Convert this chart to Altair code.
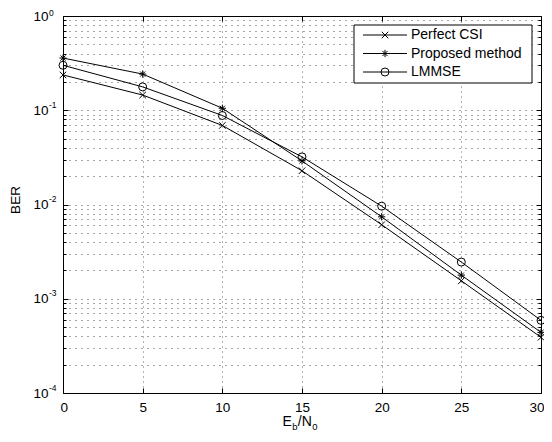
import altair as alt
import pandas as pd

# ---- data ----
snr_db = [0, 5, 10, 15, 20, 25, 30]
ber_perfect = [0.237, 0.145, 0.069, 0.0228, 0.0061, 0.00155, 0.00039]
ber_proposed = [0.358, 0.242, 0.105, 0.029, 0.0074, 0.00178, 0.00044]
ber_lmmse = [0.300, 0.177, 0.088, 0.032, 0.0096, 0.00245, 0.00059]
series_names = ["Perfect CSI", "Proposed method", "LMMSE"]

x_tick_values = [0, 5, 10, 15, 20, 25, 30]
x_grid_values = [5, 10, 15, 20, 25]
y_decades = [1e-4, 1e-3, 1e-2, 1e-1, 1.0]
y_minor = [2e-4, 3e-4, 4e-4, 5e-4, 6e-4, 7e-4, 8e-4, 9e-4,
           2e-3, 3e-3, 4e-3, 5e-3, 6e-3, 7e-3, 8e-3, 9e-3,
           2e-2, 3e-2, 4e-2, 5e-2, 6e-2, 7e-2, 8e-2, 9e-2,
           2e-1, 3e-1, 4e-1, 5e-1, 6e-1, 7e-1, 8e-1, 9e-1]
y_grid_values = y_minor + [1e-3, 1e-2, 1e-1]

rows = []
for name, vals in zip(series_names, [ber_perfect, ber_proposed, ber_lmmse]):
    for s, b in zip(snr_db, vals):
        rows.append({"snr": s, "ber": b, "series": name})
df = pd.DataFrame(rows)
legend_df = pd.DataFrame({"series": series_names})
legend_line_df = pd.DataFrame({"series": series_names * 2, "lx": [0] * 3 + [1] * 3})
box_df = pd.DataFrame({"k": [0]})

W, H = 478, 377
FONT = "Liberation Sans"

X_PATH = "M-1,-1L1,1M-1,1L1,-1"
AST_PATH = "M-1,0L1,0M0,-1L0,1M-0.7,-0.7L0.7,0.7M-0.7,0.7L0.7,-0.7"

xs = alt.Scale(domain=[0, 30], nice=False, zero=False)
ys = alt.Scale(type="log", domain=[1e-4, 1], nice=False)
shape_scale = alt.Scale(domain=series_names, range=[X_PATH, AST_PATH, "circle"])
size_scale = alt.Scale(domain=series_names, range=[42, 64, 64])


def ax(**kw):
    base = dict(title=None, labels=False, ticks=False, domain=False, grid=False,
                tickColor="black", tickWidth=1)
    base.update(kw)
    return alt.Axis(**base)


def X(axis):
    return alt.X("snr:Q", scale=xs, axis=axis)


def Y(axis):
    return alt.Y("ber:Q", scale=ys, axis=axis)


# grid lines
grid_layer = alt.Chart(df).mark_point(opacity=0).encode(
    x=X(ax(orient="bottom", grid=True, values=x_grid_values, gridColor="black",
           gridDash=[1, 4], gridOpacity=0.6, gridWidth=1)),
    y=Y(ax(orient="left", grid=True, values=y_grid_values, gridColor="black",
           gridDash=[1, 5], gridOpacity=0.7, gridWidth=1)),
)

# lines + tick labels ("10" part) + BER title
line_layer = alt.Chart(df).mark_line(color="black", strokeWidth=1).encode(
    x=X(ax(orient="bottom", values=x_tick_values, labels=True, tickSize=0,
           labelFont=FONT, labelFontSize=13.5, labelColor="black", labelPadding=7,
           labelFlush=True, labelFlushOffset=3, labelOverlap=False, format="d")),
    y=Y(ax(orient="left", values=y_decades, labels=True, tickSize=0,
           labelExpr="'10'", labelFont=FONT, labelFontSize=13.5, labelColor="black",
           labelPadding=15, labelAlign="right", labelBaseline="middle",
           labelFlush=False, labelOverlap=False,
           title="BER", titleFont=FONT, titleFontSize=13.5, titleFontWeight="normal",
           titleColor="black", titleX=-48, titleY=H / 2 - 5, titleAngle=270,
           titleAlign="center", titleBaseline="middle")),
    detail="series:N",
)

# markers + inward ticks (bottom edge, left edge major)
point_layer = alt.Chart(df).mark_point(filled=False, color="black", strokeWidth=1, opacity=1).encode(
    x=X(ax(orient="top", offset=-H, values=x_tick_values, ticks=True, tickSize=5)),
    y=Y(ax(orient="right", offset=-W, values=y_decades, ticks=True, tickSize=5)),
    shape=alt.Shape("series:N", scale=shape_scale, legend=None),
    size=alt.Size("series:O", scale=size_scale, legend=None),
)

# inward ticks (top edge, right edge major)
tick_layer = alt.Chart(df).mark_point(opacity=0).encode(
    x=X(ax(orient="bottom", offset=-H, values=x_tick_values, ticks=True, tickSize=5)),
    y=Y(ax(orient="left", offset=-W, values=y_decades, ticks=True, tickSize=5)),
)

# minor ticks, left and right edges
minor_left = alt.Chart(df).mark_point(opacity=0).encode(
    y=Y(ax(orient="right", offset=-W, values=y_minor, ticks=True, tickSize=3)),
)
minor_right = alt.Chart(df).mark_point(opacity=0).encode(
    y=Y(ax(orient="left", offset=-W, values=y_minor, ticks=True, tickSize=3)),
)

# exponent part of the y labels
exp_layer = alt.Chart(df).mark_point(opacity=0).encode(
    y=Y(ax(orient="left", values=y_decades, labels=True, tickSize=0,
           labelExpr="datum.value >= 1 ? '0' : '-' + round(-log(datum.value) / LN10)",
           labelFont=FONT, labelFontSize=8.5, labelColor="black",
           labelPadding=14.5, labelAlign="left", labelBaseline="alphabetic",
           labelOffset={"condition": {"test": "datum.value >= 1", "value": -1}, "value": -3},
           labelFlush=False, labelOverlap=False)),
)

# x axis title E_b/N_0 built from normal + subscript pieces
title_parts = [("E", 14, -19.5, 410), ("b", 9.5, -9.8, 414), ("/N", 14, -4.2, 410), ("0", 9.5, 10.2, 414)]
title_layers = []
for txt, fs, dx, yy in title_parts:
    title_layers.append(
        alt.Chart(box_df).mark_text(text=txt, font=FONT, fontSize=fs, align="left",
                                    baseline="alphabetic", dx=dx, color="black")
        .encode(x=alt.value(W / 2), y=alt.value(yy))
    )

# legend
leg_y = alt.Y("series:N", scale=alt.Scale(domain=series_names, range=[19, 56], padding=0), axis=None)
legend_box = alt.Chart(box_df).mark_rect(fill="white", stroke="black", strokeWidth=1).encode(
    x=alt.value(291), x2=alt.value(469), y=alt.value(9), y2=alt.value(67)
)
legend_line = alt.Chart(legend_line_df).mark_line(color="black", strokeWidth=1).encode(
    x=alt.X("lx:Q", scale=alt.Scale(domain=[0, 1], range=[300, 344]), axis=None),
    y=leg_y,
    detail="series:N",
)
legend_pts = alt.Chart(legend_df).mark_point(filled=False, color="black", strokeWidth=1, opacity=1).encode(
    x=alt.value(322), y=leg_y,
    shape=alt.Shape("series:N", scale=shape_scale, legend=None),
    size=alt.Size("series:O", scale=size_scale, legend=None),
)
legend_text = alt.Chart(legend_df).mark_text(font=FONT, fontSize=14, align="left",
                                             baseline="middle", color="black").encode(
    x=alt.value(348), y=leg_y, text="series:N"
)

chart = alt.layer(
    grid_layer, tick_layer, minor_left, minor_right, line_layer, point_layer, exp_layer,
    legend_box, legend_line, legend_pts, legend_text, *title_layers
).resolve_scale(
    x="independent", y="independent"
).properties(
    width=W, height=H,
    autosize=alt.AutoSizeParams(type="none"),
    padding={"left": 55, "top": 8, "right": 3, "bottom": 38},
    background="white",
).configure_view(
    stroke="black", strokeWidth=1
)

chart.save("out.html", embed_options={"renderer": "svg", "actions": False})
